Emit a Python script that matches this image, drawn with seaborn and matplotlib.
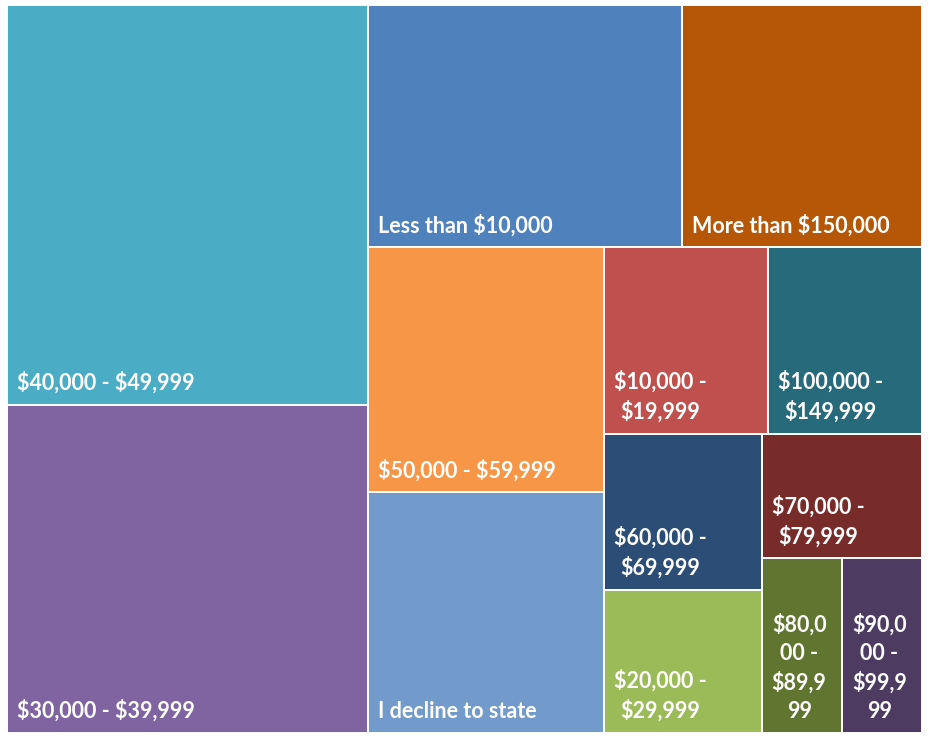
"""
Treemap of household income brackets (share of respondents, %).
Squarified layout computed here, drawn with matplotlib patches on a seaborn theme.
"""

import matplotlib
matplotlib.use("Agg")
import matplotlib.pyplot as plt
import seaborn as sns
from matplotlib.patches import Rectangle
from matplotlib.font_manager import FontProperties

categories = [
    "$40,000 - $49,999",
    "$30,000 - $39,999",
    "Less than $10,000",
    "More than $150,000",
    "$50,000 - $59,999",
    "I decline to state",
    "$10,000 - $19,999",
    "$100,000 - $149,999",
    "$60,000 - $69,999",
    "$20,000 - $29,999",
    "$70,000 - $79,999",
    "$80,000 - $89,999",
    "$90,000 - $99,999",
]
shares = [21.7, 17.8, 11.4, 8.75, 8.65, 8.5, 4.6, 4.3, 3.7, 3.4, 3.0, 2.1, 2.1]
colors = [
    "#4BACC6", "#8064A2", "#4F81BD", "#B65708", "#F79646", "#729ACA",
    "#C0504D", "#276A7C", "#2C4D75", "#9BBB59", "#772C2A", "#5F7530",
    "#4D3B62",
]

W, H = 915.0, 728.0


def worst_ratio(row, side):
    t = sum(row) / side
    return max(max(t / (a / t), (a / t) / t) for a in row)


def squarify(areas, x, y, w, h):
    rects = []
    i, n = 0, len(areas)
    while i < n:
        side = min(w, h)
        row = [areas[i]]
        j = i + 1
        while j < n:
            cand = row + [areas[j]]
            # Excel-style: the last tile always joins the final strip
            if worst_ratio(cand, side) > worst_ratio(row, side) and j < n - 1:
                break
            row = cand
            j += 1
        t = sum(row) / side
        if w >= h:
            yy = y
            for a in row:
                rects.append((x, yy, t, a / t))
                yy += a / t
            x += t
            w -= t
        else:
            xx = x
            for a in row:
                rects.append((xx, y, a / t, t))
                xx += a / t
            y += t
            h -= t
        i = j
    return rects


def wrap(label, maxw, renderer, prop):
    def width(s):
        return renderer.get_text_width_height_descent(s, prop, ismath=False)[0]

    lines, cur = [], ""
    for word in label.split(" "):
        test = word if not cur else cur + " " + word
        if width(test) <= maxw:
            cur = test
            continue
        if cur:
            lines.append(cur)
            cur = ""
        # break words that are too long on their own
        while width(word) > maxw:
            k = len(word)
            while k > 1 and width(word[:k]) > maxw:
                k -= 1
            lines.append(word[:k])
            word = word[k:]
        cur = word
    if cur:
        lines.append(cur)
    return "\n".join(lines)


sns.set_theme(style="white")
plt.rcParams["font.family"] = ["Lato", "DejaVu Sans"]

fig = plt.figure(figsize=(9.31, 7.41), dpi=100)
ax = fig.add_axes([7 / 931, 8 / 741, W / 931, H / 741])
ax.set_xlim(0, W)
ax.set_ylim(H, 0)
ax.axis("off")

total = sum(shares)
areas = [s / total * W * H for s in shares]
rects = squarify(areas, 0, 0, W, H)

renderer = fig.canvas.get_renderer()
prop = FontProperties(family="Lato", weight="bold", size=15.5)

for (x, y, w, h), name, col in zip(rects, categories, colors):
    ax.add_patch(Rectangle((x, y), w, h, facecolor=col, edgecolor="white", lw=1.4))
    txt = wrap(name, w - 20, renderer, prop)
    ax.text(x + 10, y + h - 11, txt, color="white", fontproperties=prop,
            ha="left", va="bottom", multialignment="center", linespacing=1.43,
            parse_math=False)

fig.savefig("out.png", dpi=100)
